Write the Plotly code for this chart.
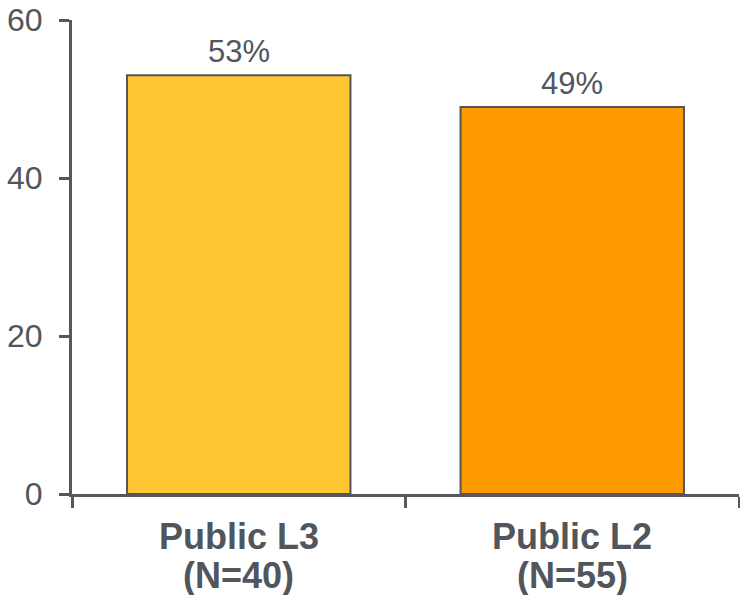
import plotly.graph_objects as go

categories = ["Public L3", "Public L2"]
sample_sizes = ["(N=40)", "(N=55)"]
values = [53, 49]
value_labels = ["53%", "49%"]
bar_colors = ["#FFC533", "#FF9900"]
y_ticks = [0, 20, 40, 60]

text_color = "#50565c"
axis_color = "#555759"
font_family = "Liberation Sans, Arial, sans-serif"

fig = go.Figure()
fig.add_trace(go.Bar(
    x=categories,
    y=values,
    width=0.67,
    marker=dict(color=bar_colors, line=dict(color="#555555", width=2)),
    cliponaxis=False,
))

for cat, v, lab, n in zip(categories, values, value_labels, sample_sizes):
    fig.add_annotation(x=cat, y=v, xref="x", yref="y", text=lab,
                       showarrow=False, yanchor="bottom", yshift=4,
                       font=dict(family=font_family, size=31, color=text_color))
    fig.add_annotation(x=cat, y=0, xref="x", yref="paper", text="<b>" + cat + "</b>",
                       showarrow=False, yanchor="middle", yshift=-42,
                       font=dict(family=font_family, size=36, color=text_color))
    fig.add_annotation(x=cat, y=0, xref="x", yref="paper", text="<b>" + n + "</b>",
                       showarrow=False, yanchor="middle", yshift=-81,
                       font=dict(family=font_family, size=36, color=text_color))

fig.update_layout(
    width=740, height=595,
    margin=dict(l=72, r=1, t=20, b=101, autoexpand=False),
    plot_bgcolor="white", paper_bgcolor="white",
    showlegend=False,
)
fig.update_xaxes(
    type="category",
    range=[-0.5, 1.5],
    showline=True, linecolor=axis_color, linewidth=3,
    ticks="outside", tickson="boundaries", ticklen=11, tickwidth=3, tickcolor=axis_color,
    showticklabels=False, showgrid=False, zeroline=False, automargin=False,
)
fig.update_yaxes(
    range=[0, 60],
    tickvals=y_ticks,
    showline=True, linecolor=axis_color, linewidth=3,
    ticks="outside", ticklen=10, tickwidth=3, tickcolor=axis_color,
    tickfont=dict(family=font_family, size=32, color=text_color),
    ticklabelstandoff=10, ticklabeloverflow="allow",
    showgrid=False, zeroline=False, automargin=False,
)

# remove the default page margin so the figure starts at the window corner
fig.write_html("out.html", config={"displayModeBar": False},
               post_script="document.body.style.margin='0px';")
